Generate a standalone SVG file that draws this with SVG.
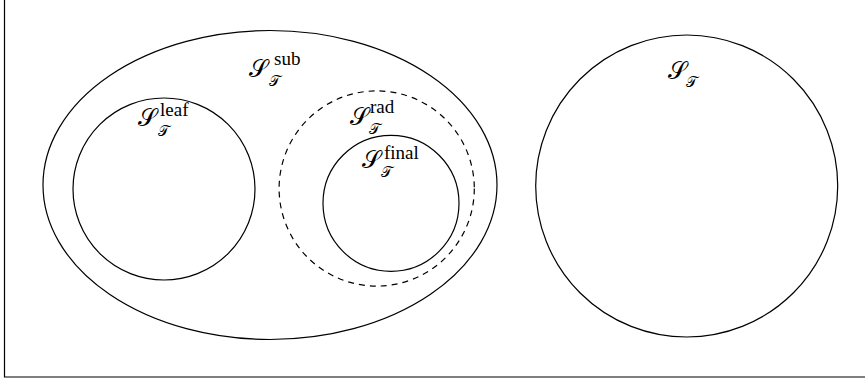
<svg xmlns="http://www.w3.org/2000/svg" width="865" height="380" viewBox="0 0 865 380">
<style>
.ln{fill:none;stroke:#000;stroke-width:1.2}
.dash{stroke-dasharray:6 5}
.cal{font-family:"DejaVu Serif","DejaVu Sans","Noto Sans",serif;font-size:24px}
.calsub{font-family:"DejaVu Serif","DejaVu Sans","Noto Sans",serif;font-size:15px}
.sup{font-family:"Liberation Serif",serif;font-size:19px}
</style>
<rect width="865" height="380" fill="#fff"/>
<path class="ln" d="M4.5,0 V377 H865"/>
<g id="sub">
<ellipse class="ln" cx="270" cy="185" rx="227" ry="154.5"/>
<text class="cal" x="249" y="77">𝒮</text><text class="calsub" x="269" y="86">𝒯</text><text class="sup" x="274" y="65">sub</text>
</g>
<g id="leaf">
<circle class="ln" cx="164" cy="189" r="91"/>
<text class="cal" x="138" y="126">𝒮</text><text class="calsub" x="158" y="136">𝒯</text><text class="sup" x="160" y="116">leaf</text>
</g>
<g id="rad">
<circle class="ln dash" cx="376.7" cy="188.5" r="97.6"/>
<text class="cal" x="350" y="125">𝒮</text><text class="calsub" x="369" y="134">𝒯</text><text class="sup" x="370" y="113">rad</text>
</g>
<g id="final">
<circle class="ln" cx="391" cy="203.3" r="68"/>
<text class="cal" x="362" y="168">𝒮</text><text class="calsub" x="381" y="177">𝒯</text><text class="sup" x="384" y="159">final</text>
</g>
<g id="all">
<circle class="ln" cx="686.7" cy="186" r="151"/>
<text class="cal" x="668" y="79">𝒮</text><text class="calsub" x="686" y="87">𝒯</text>
</g>
<g id="connectors"/>
</svg>
